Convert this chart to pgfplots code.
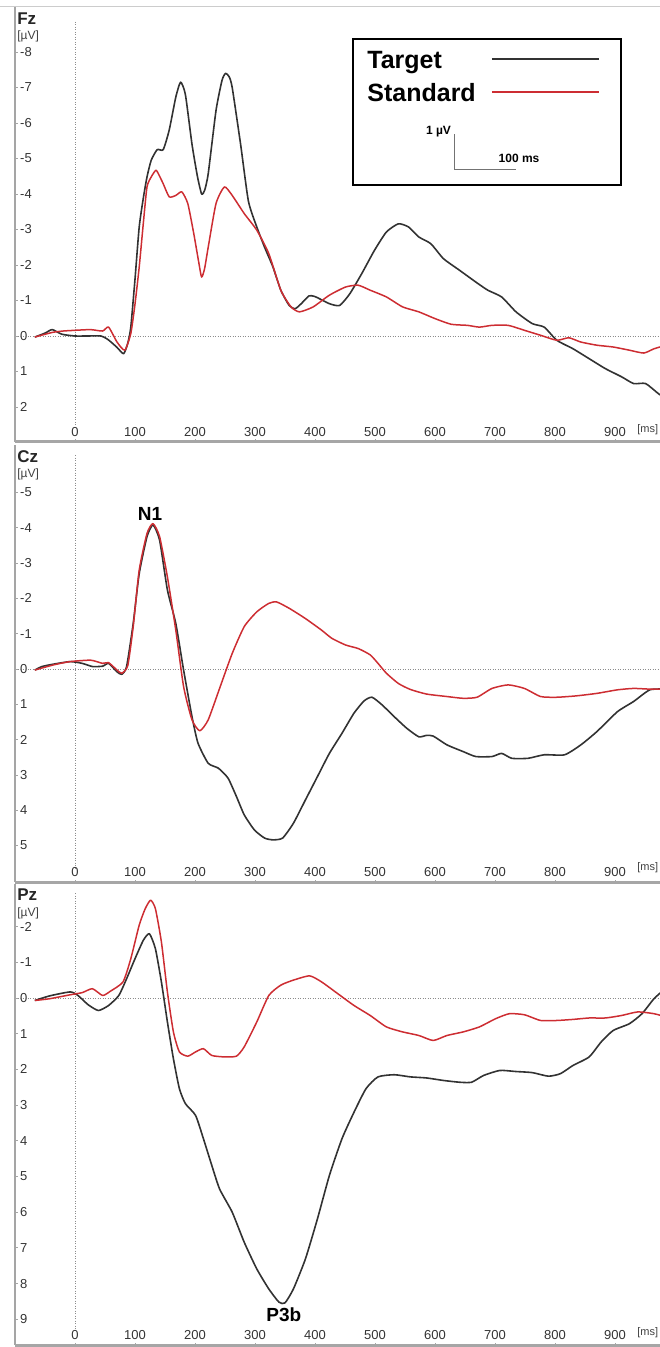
\documentclass[border=0pt]{standalone}
\usepackage{fontspec}
\setmainfont{Liberation Sans}
\usepackage{pgfplots}
\pgfplotsset{compat=1.18}
\usepackage{pgfplotstable}

\definecolor{tgt}{RGB}{50,50,50}
\definecolor{std}{RGB}{205,45,50}
\definecolor{frm}{RGB}{165,165,165}

\pgfplotstableread{
t v
-67 0.03
-50 -0.08
-38 -0.18
-22 -0.05
0 0.0
20 0.0
43 0.0
55 0.1
70 0.32
81 0.5
88 0.2
93 -0.25
100 -1.6
107 -3.07
114 -3.9
120 -4.48
127 -4.95
137 -5.25
147 -5.25
157 -5.8
168 -6.73
176 -7.15
184 -6.8
195 -5.4
204 -4.5
211 -4.0
216 -4.1
222 -4.57
235 -6.35
245 -7.2
251 -7.4
257 -7.3
262 -7.0
276 -5.4
289 -3.8
303 -3.07
316 -2.5
330 -1.94
343 -1.29
357 -0.86
367 -0.77
377 -0.91
390 -1.13
398 -1.12
404 -1.08
424 -0.91
441 -0.86
458 -1.19
478 -1.76
499 -2.41
519 -2.93
539 -3.16
556 -3.07
573 -2.79
593 -2.6
614 -2.18
641 -1.85
668 -1.52
688 -1.29
711 -1.1
735 -0.68
762 -0.35
782 -0.25
803 0.12
830 0.36
857 0.64
884 0.92
911 1.15
931 1.34
951 1.34
972 1.62
985 1.77
}\fzT

\pgfplotstableread{
t v
-67 0.03
-38 -0.1
-20 -0.14
0 -0.16
26 -0.18
46 -0.14
56 -0.25
70 0.17
83 0.4
93 -0.07
100 -0.9
107 -1.94
114 -3.2
120 -4.2
127 -4.48
135 -4.67
141 -4.5
147 -4.29
157 -3.92
168 -3.96
178 -4.06
188 -3.73
198 -2.88
206 -2.1
211 -1.66
216 -1.9
222 -2.5
235 -3.73
249 -4.2
262 -3.96
282 -3.45
303 -2.98
323 -2.32
343 -1.29
360 -0.82
374 -0.68
397 -0.82
424 -1.15
451 -1.38
472 -1.43
492 -1.29
519 -1.1
546 -0.82
573 -0.68
600 -0.49
627 -0.33
654 -0.3
674 -0.25
695 -0.3
722 -0.3
749 -0.16
776 -0.02
803 0.12
823 0.05
843 0.17
870 0.26
897 0.31
924 0.4
948 0.48
965 0.36
985 0.26
}\fzS

\pgfplotstableread{
t v
-67 0.03
-55 -0.07
-35 -0.14
-8 -0.21
12 -0.16
29 -0.07
46 -0.08
56 -0.16
70 0.08
78 0.15
86 -0.07
97 -1.29
107 -2.7
120 -3.75
130 -4.08
141 -3.65
154 -2.24
168 -1.29
181 0.03
195 1.35
205 2.1
222 2.67
239 2.81
255 3.09
269 3.61
282 4.13
299 4.56
316 4.79
330 4.84
346 4.79
364 4.37
384 3.71
404 3.05
424 2.39
445 1.82
465 1.25
482 0.9
495 0.8
512 1.02
532 1.35
553 1.68
573 1.92
586 1.88
597 1.9
620 2.15
647 2.34
668 2.48
695 2.48
711 2.39
728 2.53
755 2.53
782 2.43
816 2.43
843 2.15
870 1.77
904 1.21
931 0.92
958 0.59
985 0.57
}\czT

\pgfplotstableread{
t v
-67 0.03
-35 -0.12
-8 -0.21
26 -0.25
46 -0.16
56 -0.18
70 0.03
78 0.12
88 -0.1
97 -1.2
107 -2.8
120 -3.84
130 -4.12
141 -3.75
154 -2.61
168 -1.1
181 0.5
195 1.44
208 1.75
222 1.44
242 0.5
262 -0.44
282 -1.2
303 -1.62
323 -1.86
336 -1.9
357 -1.72
384 -1.43
411 -1.1
428 -0.87
451 -0.68
472 -0.58
492 -0.4
505 -0.16
519 0.12
539 0.41
559 0.58
586 0.71
620 0.78
647 0.83
670 0.8
695 0.55
722 0.45
749 0.55
776 0.78
803 0.8
836 0.76
870 0.69
904 0.59
931 0.55
958 0.57
985 0.57
}\czS

\pgfplotstableread{
t v
-67 0.07
-42 -0.06
-8 -0.17
5 -0.07
22 0.19
39 0.35
56 0.21
73 -0.07
86 -0.54
100 -1.1
114 -1.62
124 -1.8
134 -1.38
144 -0.45
154 0.67
164 1.7
174 2.54
184 2.96
201 3.29
214 3.94
228 4.69
241 5.35
262 6.0
282 6.84
303 7.59
323 8.15
340 8.52
350 8.54
364 8.15
384 7.31
404 6.19
424 4.97
445 3.94
465 3.2
485 2.54
505 2.21
532 2.15
559 2.21
586 2.24
614 2.31
641 2.36
661 2.36
681 2.17
708 2.03
735 2.06
762 2.09
789 2.19
809 2.12
830 1.89
857 1.65
877 1.23
897 0.91
924 0.72
945 0.44
965 0.02
985 -0.28
}\pzT

\pgfplotstableread{
t v
-67 0.07
-42 0.02
-8 -0.09
12 -0.15
29 -0.26
46 -0.07
59 -0.19
80 -0.45
93 -1.1
107 -2.04
117 -2.5
126 -2.74
134 -2.5
144 -1.57
154 -0.17
164 0.95
174 1.51
188 1.63
201 1.51
214 1.42
228 1.61
249 1.65
269 1.63
282 1.37
303 0.67
323 -0.07
343 -0.36
364 -0.5
391 -0.62
411 -0.45
438 -0.12
465 0.21
492 0.49
519 0.81
546 0.95
573 1.05
597 1.19
620 1.05
647 0.95
674 0.81
701 0.58
724 0.44
749 0.47
776 0.63
803 0.63
830 0.6
857 0.56
884 0.56
911 0.49
938 0.39
965 0.44
985 0.53
}\pzS

\pgfplotsset{
  eeg/.style={
    scale only axis, width=645pt,
    xmin=-100, xmax=975,
    y dir=reverse,
    axis line style={draw=none},
    clip mode=individual,
    xtick={0,100,200,300,400,500,600,700,800,900},
    xticklabels={0,100,200,300,400,500,600,700,800,900},
    xticklabel style={anchor=south, inner sep=0pt, yshift=5pt,
      font=\fontsize{13}{13}\selectfont, text=black!80},
    yticklabel style={anchor=west, inner sep=0pt, xshift=5pt,
      font=\fontsize{13}{13}\selectfont, text=black!80},
    tick style={frm, line width=0.8pt},
    major tick length=2.5pt, tick align=inside,
    xtick pos=left, ytick pos=left,
    xticklabel pos=left,
  },
  tg/.style={tgt, line width=1.6pt, smooth, tension=0.35, line join=round},
  st/.style={std, line width=1.5pt, smooth, tension=0.35, line join=round},
}
\tikzset{
  plab/.style={anchor=north west, inner sep=0pt, font=\bfseries\fontsize{17}{17}\selectfont, text=black!85},
  ulab/.style={anchor=north west, inner sep=0pt, font=\fontsize{12}{12}\selectfont, text=black!75},
  mslab/.style={anchor=west, inner sep=0pt, font=\fontsize{11}{11}\selectfont, text=black!75},
  zline/.style={black!45, line width=0.8pt, dash pattern=on 1pt off 1.5pt},
}

\begin{document}
\begin{tikzpicture}[x=1pt,y=1pt]
\useasboundingbox (0,0) rectangle (660,1347);
\draw[black!20, line width=1pt] (0,1340) -- (660,1340);

% ---------------- Fz ----------------
\begin{axis}[eeg, at={(15pt,905pt)}, anchor=south west, height=435pt,
  ymin=-9.268, ymax=2.986,
  ytick={-8,-7,-6,-5,-4,-3,-2,-1,0,1,2},
  yticklabels={-8,-7,-6,-5,-4,-3,-2,-1,0,1,2},
  legend plot pos=right,
  legend cell align=left,
  legend image code/.code={\draw[#1] (0pt,2pt) -- (107pt,2pt);},
  legend image post style={line width=2pt},
  legend style={at={(axis cs:487,-8.08)}, anchor=north west, draw=none, fill=none,
    inner sep=0pt, row sep=9pt, column sep=15pt,
    font=\bfseries\fontsize{25}{25}\selectfont,
    nodes={inner sep=0pt, text height=19pt, text depth=5pt}},
]
\draw[zline] (axis cs:-100,0) -- (axis cs:975,0);
\draw[zline] (axis cs:0,-8.85) -- (axis cs:0,2.5);
\addplot[tg] table[x=t,y=v] {\fzT};
\addlegendentry{Target}
\addplot[st] table[x=t,y=v] {\fzS};
\addlegendentry{Standard}
\draw[black, line width=2pt] (axis cs:463,-8.37) rectangle (axis cs:910,-4.25);
\draw[black!55, line width=0.8pt] (axis cs:633,-5.68) -- (axis cs:633,-4.68) -- (axis cs:735,-4.68);
\node[anchor=east, inner sep=0pt, font=\bfseries\fontsize{12}{12}\selectfont] at (axis cs:627,-5.75) {1 µV};
\node[inner sep=0pt, font=\bfseries\fontsize{12}{12}\selectfont] at (axis cs:740,-5.01) {100 ms};
\node[plab] at (axis cs:-96.5,-9.10) {Fz};
\node[ulab] at (axis cs:-96.5,-8.59) {[µV]};
\node[mslab] at (axis cs:937,2.65) {[ms]};
\draw[frm, line width=1.5pt] (axis cs:-100,-9.268) -- (axis cs:-100,2.986);
\draw[black!35, line width=3pt] (axis cs:-100,2.986) -- (axis cs:975,2.986);
\end{axis}

% ---------------- Cz ----------------
\begin{axis}[eeg, at={(15pt,465pt)}, anchor=south west, height=437pt,
  ymin=-6.346, ymax=6.034,
  ytick={-5,-4,-3,-2,-1,0,1,2,3,4,5},
  yticklabels={-5,-4,-3,-2,-1,0,1,2,3,4,5},
]
\draw[zline] (axis cs:-100,0) -- (axis cs:975,0);
\draw[zline] (axis cs:0,-6.06) -- (axis cs:0,5.69);
\addplot[tg] table[x=t,y=v] {\czT};
\addplot[st] table[x=t,y=v] {\czS};
\node[font=\bfseries\fontsize{19}{19}\selectfont, inner sep=0pt] at (axis cs:125,-4.4) {N1};
\node[plab] at (axis cs:-96.5,-6.20) {Cz};
\node[ulab] at (axis cs:-96.5,-5.69) {[µV]};
\node[mslab] at (axis cs:937,5.64) {[ms]};
\draw[frm, line width=1.5pt] (axis cs:-100,-6.346) -- (axis cs:-100,6.034);
\draw[black!35, line width=3pt] (axis cs:-100,6.034) -- (axis cs:975,6.034);
\end{axis}

% ---------------- Pz ----------------
\begin{axis}[eeg, at={(15pt,2pt)}, anchor=south west, height=461pt,
  ymin=-3.193, ymax=9.72,
  ytick={-2,-1,0,1,2,3,4,5,6,7,8,9},
  yticklabels={-2,-1,0,1,2,3,4,5,6,7,8,9},
]
\draw[zline] (axis cs:-100,0) -- (axis cs:975,0);
\draw[zline] (axis cs:0,-2.94) -- (axis cs:0,9.3);
\addplot[tg] table[x=t,y=v] {\pzT};
\addplot[st] table[x=t,y=v] {\pzS};
\node[font=\bfseries\fontsize{19}{19}\selectfont, inner sep=0pt] at (axis cs:348,8.88) {P3b};
\node[plab] at (axis cs:-96.5,-3.05) {Pz};
\node[ulab] at (axis cs:-96.5,-2.52) {[µV]};
\node[mslab] at (axis cs:937,9.38) {[ms]};
\draw[frm, line width=1.5pt] (axis cs:-100,-3.193) -- (axis cs:-100,9.72);
\draw[black!35, line width=3pt] (axis cs:-100,9.72) -- (axis cs:975,9.72);
\end{axis}
\end{tikzpicture}
\end{document}
